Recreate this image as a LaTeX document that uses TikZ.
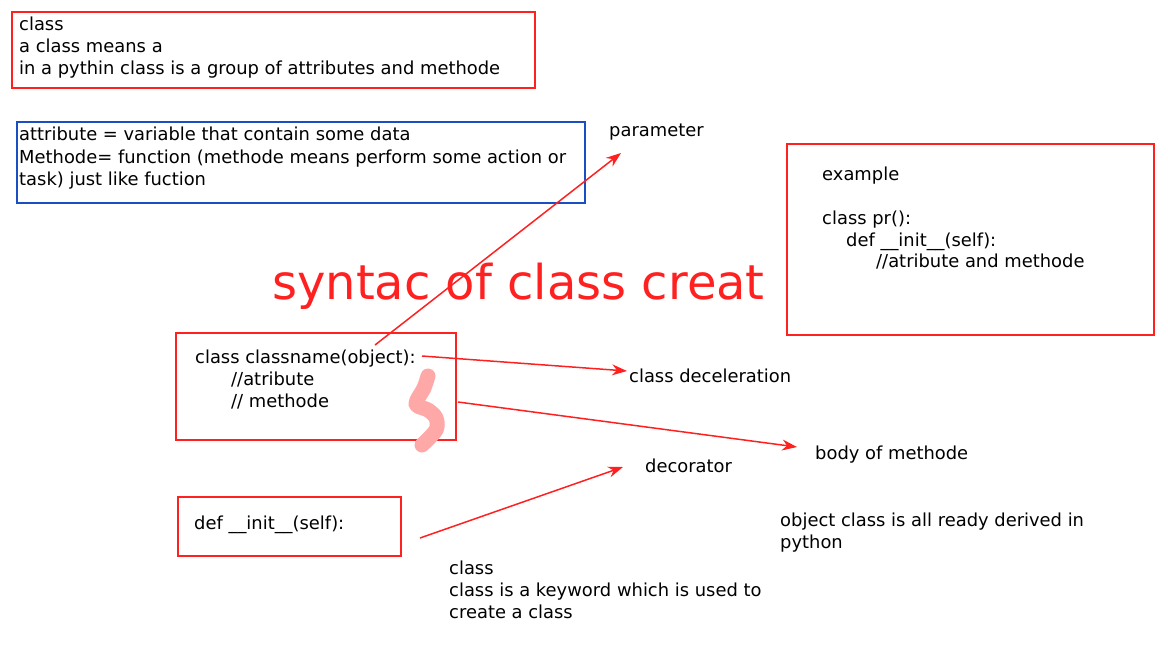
\documentclass[tikz,border=0pt]{standalone}
\usepackage{fontspec}
\setmainfont{DejaVu Sans}
\usetikzlibrary{arrows.meta}
\definecolor{myred}{HTML}{FF2020}
\definecolor{myblue}{HTML}{1A4FC4}
\definecolor{mypink}{HTML}{FFA8A8}
\tikzset{
  txt/.style={anchor=base west, inner sep=0pt, font=\fontsize{17.9}{22}\selectfont, text=black},
  redbox/.style={draw=myred, line width=1.6pt},
  bluebox/.style={draw=myblue, line width=1.6pt},
  conn/.style={draw=myred, line width=1.5pt, -{Stealth[length=15pt,width=11pt,inset=5pt]}},
}
\begin{document}
\begin{tikzpicture}[x=1pt,y=-1pt]
\useasboundingbox (0,0) rectangle (1168,657);
% top box
\draw[redbox] (12,12) rectangle (535,88);
\node[txt] (t1) at (19,30) {class};
\node[txt] (t2) at (19,52) {a class means a};
\node[txt] (t3) at (19,74) {in a pythin class is a group of attributes and methode};
% blue box
\draw[bluebox] (17,122) rectangle (585,203);
\node[txt] (b1) at (19,140) {attribute = variable that contain some data};
\node[txt] (b2) at (19,163) {Methode= function (methode means perform some action or};
\node[txt] (b3) at (19,185) {task) just like fuction};
% parameter
\node[txt] (param) at (609,136) {parameter};
% example box
\draw[redbox] (787,144) rectangle (1154,335);
\node[txt] (e1) at (822,180) {example};
\node[txt] (e2) at (822,224) {class pr():};
\node[txt] (e3) at (846,246) {def \_\_init\_\_(self):};
\node[txt] (e4) at (876,267) {//atribute and methode};
% title
\node[anchor=base west, inner sep=0pt, font=\fontsize{48}{56}\selectfont, text=myred] (title) at (272,299) {syntac of class creat};
% class box
\draw[redbox] (176,333) rectangle (456,440);
\node[txt] (c1) at (195,363) {class classname(object):};
\node[txt] (c2) at (231,385) {//atribute};
\node[txt] (c3) at (231,407) {// methode};
% pink squiggle
\draw[mypink, line width=15pt, line cap=round, line join=round]
  plot[smooth, tension=0.55] coordinates {(428,376) (424,388) (416,404) (428,410) (436,418) (436,430) (422,445)};
% labels
\node[txt] (decl) at (629,382) {class deceleration};
\node[txt] (body) at (815,459) {body of methode};
\node[txt] (deco) at (645,472) {decorator};
% def box
\draw[redbox] (178,497) rectangle (401,556);
\node[txt] (d1) at (194,529) {def \_\_init\_\_(self):};
% bottom texts
\node[txt] (k1) at (449,574) {class};
\node[txt] (k2) at (449,596) {class is a keyword which is used to};
\node[txt] (k3) at (449,618) {create a class};
\node[txt] (o1) at (780,526) {object class is all ready derived in};
\node[txt] (o2) at (780,548) {python};
% arrow endpoints
\coordinate (a1s) at (375,345);
\coordinate (a1e) at (621,153);
\coordinate (a2s) at (422,356);
\coordinate (a2e) at (627,371);
\coordinate (a3s) at (458,402);
\coordinate (a3e) at (797,447);
\coordinate (a4s) at (420,538);
\coordinate (a4e) at (623,467);
\draw[conn] (a1s) -- (a1e);
\draw[conn] (a2s) -- (a2e);
\draw[conn] (a3s) -- (a3e);
\draw[conn] (a4s) -- (a4e);
\end{tikzpicture}
\end{document}
